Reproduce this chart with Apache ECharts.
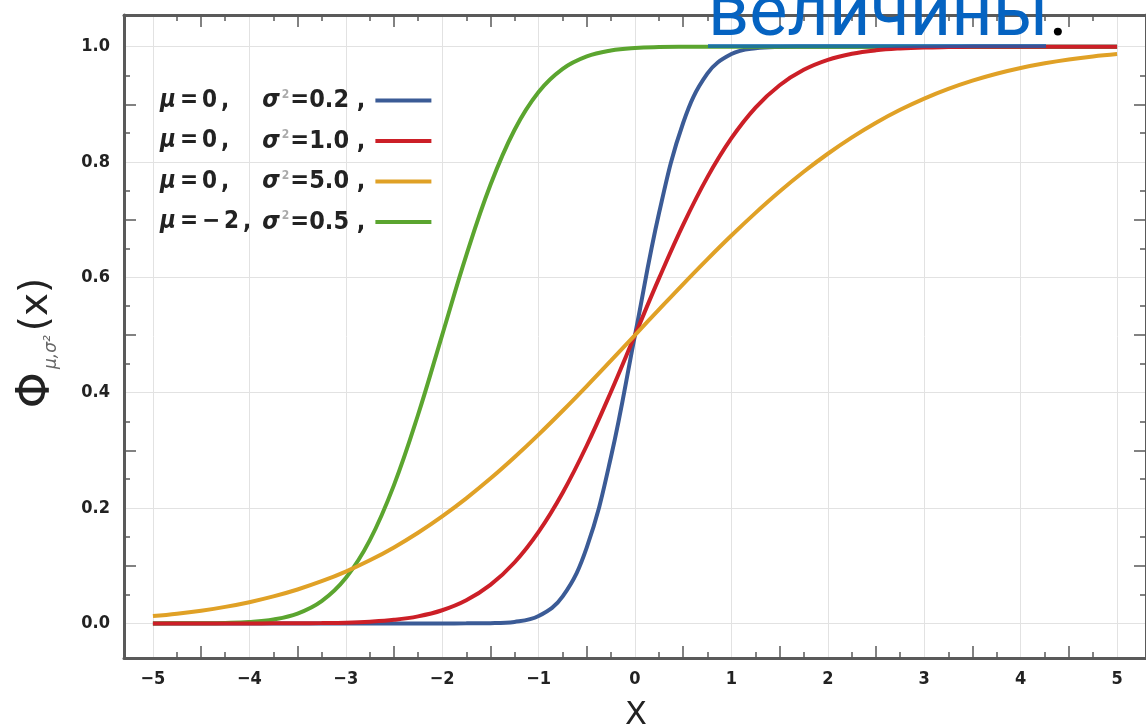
<!DOCTYPE html>
<html>
<head>
<meta charset="utf-8">
<script src="https://cdn.jsdelivr.net/npm/echarts@6/dist/echarts.min.js"></script>
<style>
  html, body { margin: 0; padding: 0; background: #fff; }
  #chart { width: 1146px; height: 728px; }
</style>
</head>
<body>
<div id="chart"></div>
<script>
// sample points on x
var xs = [-5, -4.75, -4.5, -4.25, -4, -3.75, -3.5, -3.25, -3, -2.75, -2.5, -2.25, -2, -1.75, -1.5, -1.25, -1, -0.75, -0.5, -0.25,
  0, 0.25, 0.5, 0.75, 1, 1.25, 1.5, 1.75, 2, 2.25, 2.5, 2.75, 3, 3.25, 3.5, 3.75, 4, 4.25, 4.5, 4.75, 5];

// mu=0, sigma^2=0.2
var blueVals = [0, 0, 0, 0, 0, 0, 0, 0, 0, 0, 0, 0, 0, 0.0001, 0.0004, 0.0026, 0.0127, 0.0468, 0.1318, 0.288,
  0.5, 0.712, 0.8682, 0.9532, 0.9873, 0.9974, 0.9996, 0.9999, 1, 1, 1, 1, 1, 1, 1, 1, 1, 1, 1, 1, 1];
// mu=0, sigma^2=1.0
var redVals = [0, 0, 0, 0, 0, 0.0001, 0.0002, 0.0006, 0.0013, 0.003, 0.0062, 0.0122, 0.0228, 0.0401, 0.0668, 0.1056, 0.1587, 0.2266, 0.3085, 0.4013,
  0.5, 0.5987, 0.6915, 0.7734, 0.8413, 0.8944, 0.9332, 0.9599, 0.9772, 0.9878, 0.9938, 0.997, 0.9987, 0.9994, 0.9998, 0.9999, 1, 1, 1, 1, 1];
// mu=0, sigma^2=5.0
var orangeVals = [0.0127, 0.0168, 0.0221, 0.0287, 0.0368, 0.0468, 0.0588, 0.0731, 0.0899, 0.1094, 0.1318, 0.1572, 0.1856, 0.2169, 0.2511, 0.2881, 0.3274, 0.3687, 0.4115, 0.4555,
  0.5, 0.5445, 0.5885, 0.6313, 0.6726, 0.7119, 0.7489, 0.7831, 0.8144, 0.8428, 0.8682, 0.8906, 0.9101, 0.9269, 0.9412, 0.9532, 0.9632, 0.9713, 0.9779, 0.9832, 0.9873];
// mu=-2, sigma^2=0.5
var greenVals = [0, 0.0001, 0.0002, 0.0007, 0.0023, 0.0067, 0.0169, 0.0385, 0.0786, 0.1444, 0.2398, 0.3618, 0.5, 0.6382, 0.7602, 0.8556, 0.9214, 0.9615, 0.9831, 0.9933,
  0.9977, 0.9993, 0.9998, 0.9999, 1, 1, 1, 1, 1, 1, 1, 1, 1, 1, 1, 1, 1, 1, 1, 1, 1];

// legend parts
var legendMean = ['0', '0', '0', '−2'];
var legendVar = ['0.2', '1.0', '5.0', '0.5'];
var seriesNames = ['s1', 's2', 's3', 's4'];

// ticks / labels
var xLabels = [-5, -4, -3, -2, -1, 0, 1, 2, 3, 4, 5];
var xHalfTicks = [-4.5, -3.5, -2.5, -1.5, -0.5, 0.5, 1.5, 2.5, 3.5, 4.5];
var xQuarterTicks = [-4.75, -4.25, -3.75, -3.25, -2.75, -2.25, -1.75, -1.25, -0.75, -0.25,
  0.25, 0.75, 1.25, 1.75, 2.25, 2.75, 3.25, 3.75, 4.25, 4.75];
var yLabels = [0, 0.2, 0.4, 0.6, 0.8, 1.0];
var yLongTicks = [0.1, 0.3, 0.5, 0.7, 0.9];
var yShortTicks = [0.05, 0.15, 0.25, 0.35, 0.45, 0.55, 0.65, 0.75, 0.85, 0.95];

var FONT = "'DejaVu Sans Condensed', 'DejaVu Sans', sans-serif";
var FONT_W = "'DejaVu Sans', sans-serif";
var FRAME = '#5a5a5a';
var colors = ['#3b5b96', '#cc1f27', '#e0a126', '#5ba52f'];

// measure text so the sigma column lines up
var measureCtx = document.createElement('canvas').getContext('2d');
function textW(str, italic) {
  measureCtx.font = (italic ? 'italic ' : '') + 'bold 24px ' + FONT;
  return measureCtx.measureText(str).width;
}

function pairs(vals) {
  return xs.map(function (x, i) { return [x, vals[i]]; });
}

function tickAxis(pos, values, len, withLine) {
  return {
    type: 'value', position: pos, min: -5.3, max: 5.3,
    axisLine: { show: !!withLine, onZero: false, lineStyle: { color: FRAME, width: 3 } },
    axisTick: { show: true, inside: true, length: len, customValues: values, lineStyle: { color: FRAME, width: 1.5 } },
    axisLabel: { show: false },
    splitLine: { show: false }
  };
}
function yTickAxis(pos, values, len, withLine) {
  return {
    type: 'value', position: pos, min: -0.06, max: 1.055,
    axisLine: { show: !!withLine, onZero: false, lineStyle: { color: FRAME, width: 3 } },
    axisTick: { show: true, inside: true, length: len, customValues: values, lineStyle: { color: FRAME, width: 1.5 } },
    axisLabel: { show: false },
    splitLine: { show: false }
  };
}

var chart = echarts.init(document.getElementById('chart'));

var labelStyle = { color: '#222', fontFamily: FONT, fontWeight: 'bold', fontSize: 18 };
var legTxt = { fontFamily: FONT, fontWeight: 'bold', fontSize: 24, lineHeight: 24, color: '#222' };
var legRight = { fontFamily: FONT, fontWeight: 'bold', fontSize: 25, lineHeight: 24, color: '#222' };
var CH_PAD = 2;

var rich = {
  m: Object.assign({ fontStyle: 'italic', padding: [0, CH_PAD, 0, CH_PAD] }, legTxt),
  c: Object.assign({ padding: [0, CH_PAD, 0, CH_PAD] }, legTxt),
  s: Object.assign({ fontStyle: 'italic' }, legRight),
  p: { fontFamily: FONT, fontSize: 12, lineHeight: 24, color: '#aaa', verticalAlign: 'top', padding: [0, 1, 0, 2] },
  b: Object.assign({ padding: [0, 5, 0, 0] }, legRight)
};
// last char of the mu part carries the gap up to the sigma column
seriesNames.forEach(function (n, i) {
  var head = '=' + legendMean[i];
  var used = textW('μ', true) + textW(head + ',', false) + CH_PAD * 2 * (head.length + 2);
  var extra = Math.max(0, Math.round(104 - used));
  rich['e' + i] = Object.assign({ padding: [0, CH_PAD + extra, 0, CH_PAD] }, legTxt);
});

var option = {
  animation: false,
  grid: { left: 124, right: -1, top: 15, bottom: 70, containLabel: false },
  xAxis: [
    {
      type: 'value', position: 'bottom', min: -5.3, max: 5.3,
      axisLine: { show: true, onZero: false, lineStyle: { color: FRAME, width: 3 } },
      axisTick: { show: false, customValues: xLabels },
      axisLabel: Object.assign({
        customValues: xLabels, margin: 12,
        formatter: function (v) { return v < 0 ? '−' + Math.abs(v) : String(v); }
      }, labelStyle),
      splitLine: { show: true, lineStyle: { color: '#e2e2e2', width: 1 } }
    },
    tickAxis('bottom', xHalfTicks, 12),
    tickAxis('bottom', xQuarterTicks, 6),
    tickAxis('top', xHalfTicks, 12, true),
    tickAxis('top', xQuarterTicks, 6)
  ],
  yAxis: [
    {
      type: 'value', position: 'left', min: -0.06, max: 1.055,
      axisLine: { show: true, onZero: false, lineStyle: { color: FRAME, width: 3 } },
      axisTick: { show: false, customValues: yLabels },
      axisLabel: Object.assign({
        customValues: yLabels, margin: 14,
        formatter: function (v) { return v.toFixed(1); }
      }, labelStyle),
      splitLine: { show: true, lineStyle: { color: '#e2e2e2', width: 1 } }
    },
    yTickAxis('left', yLongTicks, 12),
    yTickAxis('left', yShortTicks, 6),
    yTickAxis('right', yLongTicks, 12, true),
    yTickAxis('right', yShortTicks, 6)
  ],
  legend: {
    orient: 'vertical', left: 158, top: 88, padding: 0, align: 'right',
    icon: 'rect', itemWidth: 56, itemHeight: 4, itemGap: 15.5,
    data: ['s1', 's2', 's3', 's4'],
    formatter: function (name) {
      var i = seriesNames.indexOf(name);
      var head = '=' + legendMean[i];
      var mu = '{m|μ}' + head.split('').map(function (ch) { return '{c|' + ch + '}'; }).join('') + '{e' + i + '|,}';
      return mu + '{s|σ}{p|2}{b|=' + legendVar[i] + ' ,}';
    },
    textStyle: {
      color: '#222', fontFamily: FONT, fontWeight: 'bold', fontSize: 24, lineHeight: 24,
      rich: rich
    }
  },
  graphic: [
    {
      type: 'text', x: 37, y: 343, rotation: Math.PI / 2, z: 50,
      style: {
        text: '{f|Φ}{s|μ,σ²}{r|(x)}',
        align: 'center', verticalAlign: 'middle',
        rich: {
          f: { fontFamily: FONT_W, fontSize: 46, fill: '#222' },
          s: { fontFamily: FONT_W, fontSize: 17, fill: '#666', fontStyle: 'italic', verticalAlign: 'bottom', padding: [14, 4, 0, 3] },
          r: { fontFamily: FONT_W, fontSize: 39, fill: '#222' }
        }
      }
    },
    {
      type: 'text', x: 636, y: 716, z: 50,
      style: { text: 'X', fontFamily: FONT_W, fontSize: 32, fill: '#222', align: 'center', verticalAlign: 'middle' }
    },
    {
      type: 'text', x: 708, y: 17, z: 100,
      style: {
        text: '{a|величины}{b|.}',
        align: 'left', verticalAlign: 'middle',
        rich: {
          a: { fontFamily: 'Roboto', fontSize: 72, fill: '#0563c1' },
          b: { fontFamily: 'Roboto', fontSize: 72, fill: '#000' }
        }
      }
    },
    {
      type: 'rect', z: 100,
      shape: { x: 708, y: 44, width: 338, height: 4 },
      style: { fill: '#0563c1', opacity: 0.7 }
    }
  ],
  series: [
    { name: 's1', type: 'line', data: pairs(blueVals), color: colors[0] },
    { name: 's4', type: 'line', data: pairs(greenVals), color: colors[3] },
    { name: 's2', type: 'line', data: pairs(redVals), color: colors[1] },
    { name: 's3', type: 'line', data: pairs(orangeVals), color: colors[2] }
  ].map(function (s) {
    s.showSymbol = false;
    s.smooth = 0.4;
    s.lineStyle = { width: 4 };
    return s;
  })
};

chart.setOption(option);
</script>
</body>
</html>
